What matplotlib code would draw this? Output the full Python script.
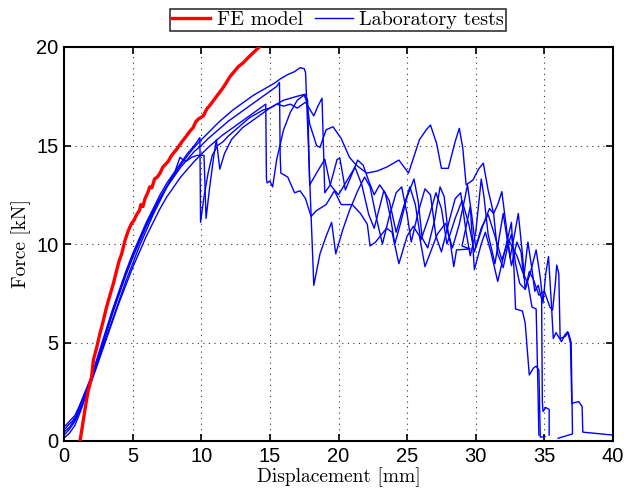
import matplotlib
matplotlib.use("Agg")
import matplotlib.pyplot as plt
from matplotlib.lines import Line2D

# FE model: displacement [mm], force [kN]
fe_x = [1.17, 1.35, 1.55, 1.75, 2.0, 2.14, 2.4, 2.6, 2.86, 3.1, 3.35, 3.6, 3.85, 4.0, 4.2,
        4.45, 4.7, 4.93, 5.1, 5.3, 5.5, 5.6, 5.75, 5.9, 6.1, 6.25, 6.4, 6.6, 6.8, 7.0,
        7.2, 7.4, 7.6, 7.8, 7.96, 8.2, 8.4, 8.6, 8.94, 9.2, 9.4, 9.6, 9.8, 10.15, 10.4,
        10.7, 11.12, 11.4, 11.7, 12.1, 12.4, 12.7, 13.06, 13.4, 13.7, 14.0, 14.3, 14.6]
fe_y = [0.0, 0.8, 1.7, 2.5, 3.2, 4.1, 4.8, 5.4, 6.1, 6.8, 7.4, 8.0, 8.7, 9.1, 9.5,
        10.2, 10.7, 11.05, 11.2, 11.5, 11.7, 12.0, 11.9, 12.3, 12.6, 12.9, 12.85, 13.3, 13.4, 13.6,
        13.9, 14.05, 14.2, 14.45, 14.6, 14.8, 15.0, 15.2, 15.5, 15.75, 15.9, 16.2, 16.35, 16.5, 16.85,
        17.1, 17.5, 17.75, 18.05, 18.5, 18.75, 19.0, 19.2, 19.45, 19.65, 19.85, 20.05, 20.3]

# Laboratory tests (five specimens)
t1_x = [0.0, 0.3, 0.6, 0.9, 1.2, 1.5, 1.9, 2.3, 2.8, 3.3, 3.8, 4.3, 4.8, 5.3, 5.8, 6.3, 6.8,
        7.3, 7.8, 8.3, 8.8, 9.3, 9.8, 10.3, 10.8, 11.3, 11.8, 12.3, 12.8, 13.3, 13.8, 14.3,
        14.8, 15.3, 15.8, 16.3, 16.8, 17.2, 17.5, 17.6, 18.2, 18.65, 19.1, 19.5, 19.8, 20.3,
        20.8, 21.4, 21.9, 22.3, 22.8, 23.2, 23.7, 24.2, 24.6, 25.0, 25.3, 25.8, 26.3, 26.7,
        27.1, 27.5, 28.0, 28.5, 28.9, 29.3, 29.6, 30.0, 30.4, 30.6, 30.9, 31.4, 31.7, 32.0,
        32.3, 32.6, 33.0, 33.3, 33.5, 33.8, 34.1, 34.3, 34.55, 34.8, 34.85, 34.9, 35.1, 35.35,
        35.35]
t1_y = [0.55, 0.8, 1.0, 1.3, 1.9, 2.4, 3.0, 3.8, 4.9, 6.0, 7.1, 8.1, 9.0, 9.9, 10.7, 11.4, 12.1,
        12.7, 13.3, 13.8, 14.3, 14.75, 15.15, 15.5, 15.85, 16.2, 16.5, 16.8, 17.05, 17.3, 17.55, 17.75,
        17.95, 18.15, 18.4, 18.6, 18.75, 18.95, 18.9, 18.7, 7.9, 9.5, 10.4, 11.1, 9.5, 10.7,
        11.7, 12.7, 13.4, 12.9, 11.2, 10.0, 11.4, 12.6, 12.9, 11.5, 10.1, 11.6, 12.8, 12.5,
        10.4, 9.6, 11.0, 12.3, 12.6, 10.6, 9.4, 10.6, 13.3, 12.4, 10.5, 9.0, 10.3, 11.55,
        10.2, 8.9, 10.1, 9.6, 8.3, 10.1, 8.7, 7.6, 7.9, 7.2, 2.0, 1.5, 1.7, 1.6,
        0.3]

t2_x = [0.0, 0.4, 0.8, 1.2, 1.6, 2.0, 2.5, 3.0, 3.5, 4.0, 4.5, 5.0, 5.5, 6.0, 6.5, 7.0, 7.5,
        8.0, 8.5, 9.0, 9.5, 10.0, 10.5, 11.0, 11.5, 12.0, 12.5, 13.0, 13.5, 14.0, 14.5, 15.0,
        15.5, 15.7, 15.75, 15.8, 16.3, 16.8, 17.2, 17.6, 18.0, 18.4, 19.1, 19.7, 20.2, 21.0,
        21.6, 22.1, 22.3, 22.7, 23.5, 23.9, 24.4, 25.0, 25.45, 25.9, 26.3, 27.2, 27.8, 28.1,
        28.4, 28.6, 29.6, 29.0, 29.3, 29.6, 29.9, 30.4, 30.7, 31.1, 31.6, 32.1, 32.6, 32.8,
        32.9, 33.4, 33.6, 33.9, 34.2, 34.4, 34.6, 34.7, 35.05]
t2_y = [0.3, 0.6, 1.0, 1.6, 2.4, 3.1, 4.2, 5.3, 6.4, 7.4, 8.4, 9.3, 10.1, 10.9, 11.6, 12.3, 12.9,
        13.4, 13.9, 14.3, 14.7, 15.0, 15.35, 15.65, 15.95, 16.25, 16.5, 16.75, 17.0, 17.25, 17.5, 17.75,
        18.0, 18.2, 14.5, 13.6, 13.4, 12.6, 12.7, 12.3, 11.4, 11.7, 12.0, 12.7, 12.0, 12.0,
        11.55, 11.0, 9.9, 10.1, 10.8, 10.6, 9.0, 10.4, 10.9, 10.4, 8.85, 10.5, 11.05, 10.3,
        8.85, 9.7, 9.75, 9.9, 10.9, 11.9, 8.7, 10.0, 10.6, 9.6, 8.1, 9.6, 11.1, 8.5,
        6.7, 6.6, 6.0, 3.35, 3.7, 3.8, 3.6, 0.2, 0.22]

t3_x = [0.0, 0.4, 0.8, 1.2, 1.6, 2.0, 2.5, 3.0, 3.5, 4.0, 4.5, 5.0, 5.5, 6.0, 6.5, 7.0, 7.5,
        8.0, 8.5, 9.0, 9.5, 10.0, 10.5, 11.0, 11.5, 12.0, 12.5, 13.0, 13.5, 14.0, 14.5, 14.7,
        14.75, 14.8, 15.0, 15.2, 15.5, 16.0, 16.5, 17.0, 17.5, 17.7, 17.9, 18.4, 18.65, 19.1,
        19.6, 20.2, 20.8, 21.3, 22.05, 22.8, 23.5, 24.4, 25.1, 25.9, 26.4, 26.7, 27.15, 27.5,
        28.0, 28.5, 28.8, 29.05, 29.3, 29.8, 30.2, 30.55, 30.9, 31.3, 31.6, 31.9, 32.2, 32.5,
        32.8, 33.1, 33.4, 33.6, 34.0, 34.4, 34.7, 34.9, 35.1, 35.3, 35.5, 35.65, 35.85, 36.25,
        36.5, 36.7, 36.9, 37.0, 37.1, 37.5, 37.75, 37.8, 40.0]
t3_y = [0.15, 0.4, 0.8, 1.5, 2.3, 3.0, 4.0, 5.0, 6.0, 7.0, 7.9, 8.8, 9.6, 10.4, 11.1, 11.8, 12.4,
        12.9, 13.4, 13.8, 14.2, 14.55, 14.9, 15.2, 15.5, 15.75, 16.0, 16.25, 16.5, 16.75, 17.0, 17.1,
        13.3, 13.1, 13.2, 12.9, 14.3, 15.8, 16.7, 17.3, 17.56, 17.2, 16.1, 15.0, 14.9, 15.8,
        15.95, 15.35, 14.4, 14.0, 13.6, 13.7, 13.9, 14.26, 13.6, 15.3, 15.8, 16.04, 15.1, 13.84,
        13.84, 15.2, 15.87, 14.9, 13.0, 13.25, 13.8, 14.1, 12.74, 11.55, 12.0, 12.66, 11.0, 9.3,
        10.4, 11.55, 9.5, 7.7, 8.6, 9.7, 8.3, 7.0, 8.5, 9.36, 7.1, 5.2, 5.5, 5.04,
        5.4, 5.55, 4.96, 1.9, 1.93, 2.0, 1.75, 0.45, 0.3]

t4_x = [0.0, 0.4, 0.8, 1.2, 1.6, 2.0, 2.5, 3.0, 3.5, 4.0, 4.5, 5.0, 5.5, 6.0, 6.5, 7.0, 7.5,
        8.0, 8.5, 9.0, 9.5, 9.9, 9.95, 10.2, 10.5, 10.8, 11.2, 11.6, 12.0, 12.5, 13.0, 13.5,
        14.0, 14.5, 15.0, 15.5, 16.0, 16.5, 17.0, 17.6, 18.2, 18.5, 18.8, 19.0, 19.4, 19.9,
        20.1, 20.5, 21.1, 21.4, 21.8, 22.2, 22.6, 23.0, 23.4, 23.8, 24.1, 24.5, 25.0, 25.5,
        25.8, 26.1, 26.5, 27.0, 27.4, 27.7, 28.0, 28.3, 28.8, 29.2, 29.4, 29.7, 30.0, 30.5,
        31.0, 31.3, 31.6, 32.0, 32.3, 32.6, 32.9, 33.2, 33.6, 33.9, 34.2, 34.6, 35.0, 35.4,
        35.6, 35.8, 35.9, 36.05, 36.15, 36.5, 36.75, 36.95, 37.05, 36.0]
t4_y = [0.7, 1.0, 1.3, 1.9, 2.6, 3.3, 4.4, 5.5, 6.6, 7.6, 8.6, 9.5, 10.3, 11.1, 11.8, 12.5, 13.1,
        13.6, 14.1, 14.6, 15.0, 15.4, 11.1, 12.4, 13.6, 14.5, 15.0, 15.2, 15.5, 15.8, 16.1, 16.4,
        16.6, 16.8, 16.9, 17.1, 17.0, 17.1, 16.9, 17.2, 16.5, 17.0, 17.4, 12.6, 13.0, 14.3,
        14.35, 12.74, 13.75, 14.26, 14.0, 13.2, 12.5, 13.0, 12.6, 11.3, 10.0, 11.0, 12.4, 13.3,
        12.2, 10.3, 9.8, 11.2, 12.9, 12.4, 10.5, 9.8, 11.0, 12.3, 13.0, 11.5, 9.8, 10.9,
        11.8, 11.55, 9.5, 8.8, 9.8, 10.5, 9.0, 8.0, 7.7, 8.6, 8.2, 7.4, 7.6, 6.8,
        6.65, 8.0, 8.93, 8.5, 5.2, 5.3, 5.5, 5.0, 0.36, 0.14]

t5_x = [0.0, 0.4, 0.8, 1.2, 1.6, 2.0, 2.5, 3.0, 3.5, 4.0, 4.5, 5.0, 5.5, 6.0, 6.5, 7.0, 7.5,
        8.0, 8.45, 8.7, 8.9, 9.3, 9.7, 10.2, 10.35, 10.6, 10.9, 11.1, 11.35, 11.7, 12.2, 13.0,
        14.0, 15.0, 16.0, 17.0, 17.56, 17.75, 17.9, 18.4, 19.0, 19.4, 20.0, 20.6, 21.2, 21.7,
        22.2, 22.6, 23.3, 23.7, 24.2, 24.7, 25.2, 25.6, 26.0, 26.6, 27.1, 27.5, 27.9, 28.5,
        29.0, 29.5, 29.9, 30.4, 30.9, 31.4, 31.9, 32.4, 33.0, 33.4, 33.8, 34.1, 34.4, 34.5,
        34.6]
t5_y = [0.45, 0.7, 1.1, 1.7, 2.4, 3.1, 4.1, 5.1, 6.1, 7.1, 8.1, 9.0, 9.9, 10.7, 11.5, 12.2, 12.9,
        13.5, 14.4, 14.25, 14.2, 14.4, 14.5, 14.5, 11.3, 12.8, 14.4, 15.3, 13.8, 14.6, 15.3, 15.9,
        16.4, 16.9, 17.3, 17.5, 17.6, 17.3, 13.0, 13.6, 14.3, 13.0, 12.5, 13.2, 13.9, 13.0,
        11.5, 10.8, 12.7, 12.2, 10.6, 11.8, 12.9, 12.0, 10.2, 11.4, 12.6, 11.8, 10.0, 11.3,
        12.2, 11.0, 9.6, 10.8, 11.5, 10.4, 9.2, 10.2, 9.4, 8.6, 8.0, 6.8, 6.7, 3.7,
        0.3]

lab_tests = [(t1_x, t1_y), (t2_x, t2_y), (t3_x, t3_y), (t4_x, t4_y), (t5_x, t5_y)]

x_ticks = [0, 5, 10, 15, 20, 25, 30, 35, 40]
y_ticks = [0, 5, 10, 15, 20]

fig = plt.figure(figsize=(6.27, 4.91), dpi=100)
ax = fig.add_axes([64 / 627, 1 - 441 / 491, (613 - 64) / 627, (441 - 47) / 491])

blue = "#0000ff"
red = "#ff0000"
for xs, ys in lab_tests:
    ax.plot(xs, ys, color=blue, lw=1.0, zorder=2)
ax.plot(fe_x, fe_y, color=red, lw=2.4, zorder=3)

ax.set_xlim(0, 40)
ax.set_ylim(0, 20)
ax.set_xticks(x_ticks)
ax.set_yticks(y_ticks)
ax.set_xticklabels([str(v) for v in x_ticks], family="Liberation Sans", fontsize=14.5)
ax.set_yticklabels([str(v) for v in y_ticks], family="Liberation Sans", fontsize=14.5)
ax.tick_params(direction="in", length=5, width=1.2, top=True, right=True, pad=4)
ax.grid(True, linestyle=(0, (1, 4)), color="#333333", linewidth=0.8)
for s in ax.spines.values():
    s.set_linewidth(1.5)

ax.set_xlabel("Displacement [mm]", family="cmr10", fontsize=14, labelpad=1)
ax.set_ylabel("Force [kN]", family="cmr10", fontsize=14, labelpad=4)

handles = [Line2D([], [], color=red, lw=2.4), Line2D([], [], color=blue, lw=1.0)]
leg = fig.legend(handles, ["FE model", "Laboratory tests"], loc="center",
                 bbox_to_anchor=(338 / 627, 1 - 20 / 491), ncol=2, frameon=True,
                 fancybox=False, edgecolor="black", handlelength=1.9, handletextpad=0.3,
                 columnspacing=0.6, borderpad=0.12, borderaxespad=0,
                 prop={"family": "cmr10", "size": 14.5})
leg.get_frame().set_linewidth(1.2)

fig.savefig("out.png", dpi=100)
